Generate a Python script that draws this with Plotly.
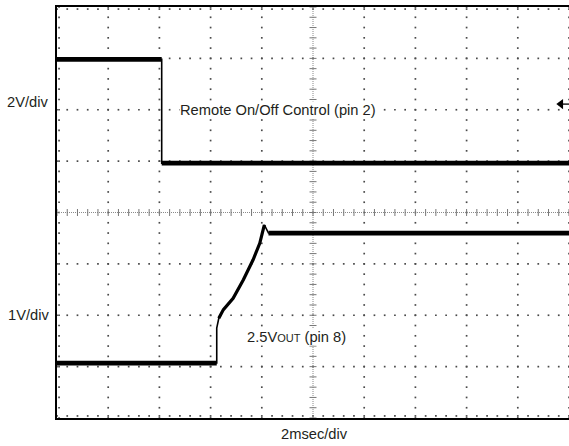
import numpy as np
import plotly.graph_objects as go

# Horizontal axis in divisions (2 msec/div), vertical in divisions
ch1_time = [0.0, 2.045, 2.045, 10.0]
ch1_level = [2.98, 2.98, 0.96, 0.96]          # Remote On/Off Control (pin 2), 2V/div

ch2_time = [0.0, 3.12, 3.12, 3.16, 3.25, 3.44, 3.64, 3.83, 3.96, 4.05, 4.13, 10.0]
ch2_level = [-2.93, -2.93, -2.25, -2.06, -1.89, -1.67, -1.31, -0.92, -0.60, -0.24, -0.40, -0.40]  # 2.5Vout (pin 8), 1V/div

ch1_marker_level = 2.11

ink = "#231f20"
FONT = "Liberation Sans, Arial, Helvetica, sans-serif"

fig = go.Figure()

# ---- graticule ----
xminor = np.round(np.arange(0, 10.0001, 0.2), 3)
yminor = np.round(np.arange(-4, 4.0001, 0.2), 3)
gx, gy = [], []
for xv in [1, 2, 3, 4, 6, 7, 8, 9, 10]:
    gx += [xv] * len(yminor); gy += list(yminor)
for yv in [-3, -2, -1, 1, 2, 3]:
    gx += list(xminor); gy += [yv] * len(xminor)
# border minor ticks
gx += list(xminor); gy += [3.96] * len(xminor)
gx += list(xminor); gy += [-3.96] * len(xminor)
gx += [0.04] * len(yminor); gy += list(yminor)
fig.add_trace(go.Scatter(x=gx, y=gy, mode="markers", hoverinfo="skip",
                         marker=dict(symbol="square", size=1.7, color="#4a4a4a", line=dict(width=0)),
                         showlegend=False))

# centre lines
fig.add_trace(go.Scatter(x=[0, 10], y=[0, 0], mode="lines", hoverinfo="skip",
                         line=dict(color="#8a8a8a", width=1, dash="1px,1px"), showlegend=False))
fig.add_trace(go.Scatter(x=[5, 5], y=[-4, 4], mode="lines", hoverinfo="skip",
                         line=dict(color="#8a8a8a", width=1, dash="1px,1px"), showlegend=False))
fig.add_trace(go.Scatter(x=xminor, y=[0] * len(xminor), mode="markers", hoverinfo="skip",
                         marker=dict(symbol="line-ns", size=5, line=dict(color="#777", width=1)),
                         showlegend=False))
fig.add_trace(go.Scatter(x=[5] * len(yminor), y=yminor, mode="markers", hoverinfo="skip",
                         marker=dict(symbol="line-ew", size=5, line=dict(color="#777", width=1)),
                         showlegend=False))

# ---- traces ----
def add_trace(t, v, flat_idx, ramp_idx):
    fig.add_trace(go.Scatter(x=t, y=v, mode="lines", line=dict(color="black", width=1.6),
                             hoverinfo="skip", showlegend=False))
    for a, b in flat_idx:
        fig.add_trace(go.Scatter(x=t[a:b + 1], y=v[a:b + 1], mode="lines",
                                 line=dict(color="black", width=4.8), hoverinfo="skip", showlegend=False))
    for a, b in ramp_idx:
        fig.add_trace(go.Scatter(x=t[a:b + 1], y=v[a:b + 1], mode="lines",
                                 line=dict(color="black", width=3.2), hoverinfo="skip", showlegend=False))

add_trace(ch1_time, ch1_level, [(0, 1), (2, 3)], [])
add_trace(ch2_time, ch2_level, [(0, 1), (10, 11)], [(3, 9)])

# channel 1 reference marker arrow
fig.add_trace(go.Scatter(x=[9.8, 10.0], y=[ch1_marker_level] * 2, mode="lines",
                         line=dict(color="black", width=1.3), hoverinfo="skip", showlegend=False))
fig.add_trace(go.Scatter(x=[9.84], y=[ch1_marker_level], mode="markers", hoverinfo="skip",
                         marker=dict(symbol="triangle-left", size=9, color="black"), showlegend=False))

# ---- text ----
tf = dict(family=FONT, size=14.7, color=ink)
fig.add_annotation(x=4.32, y=2.0, text="Remote On/Off Control (pin 2)", showarrow=False,
                   font=tf, bgcolor="white", borderpad=0)
fig.add_annotation(x=4.67, y=-2.42, text="2.5V<span style='font-size:11px'>OUT</span> (pin 8)",
                   showarrow=False, font=tf, bgcolor="white", borderpad=0)
for txt, px, py in [("2V/div", -0.0576, 0.768), ("1V/div", -0.0566, 0.2506),
                    ("2msec/div", 0.502, -0.039)]:
    fig.add_annotation(xref="paper", yref="paper", x=px, y=py, text=txt, showarrow=False,
                       xanchor="center", yanchor="middle", font=tf)

fig.update_xaxes(range=[0, 10], showgrid=False, zeroline=False, showticklabels=False, ticks="",
                 showline=True, mirror=True, linewidth=2, linecolor="black")
fig.update_yaxes(range=[-4, 4], showgrid=False, zeroline=False, showticklabels=False, ticks="",
                 showline=True, mirror=False, linewidth=2, linecolor="black")
fig.update_layout(width=569, height=446, margin=dict(l=57, r=0, t=7, b=28, pad=0),
                  plot_bgcolor="white", paper_bgcolor="white", showlegend=False)

fig.write_html("out.html", config={"displayModeBar": False},
               post_script="document.body.style.margin='0';")
